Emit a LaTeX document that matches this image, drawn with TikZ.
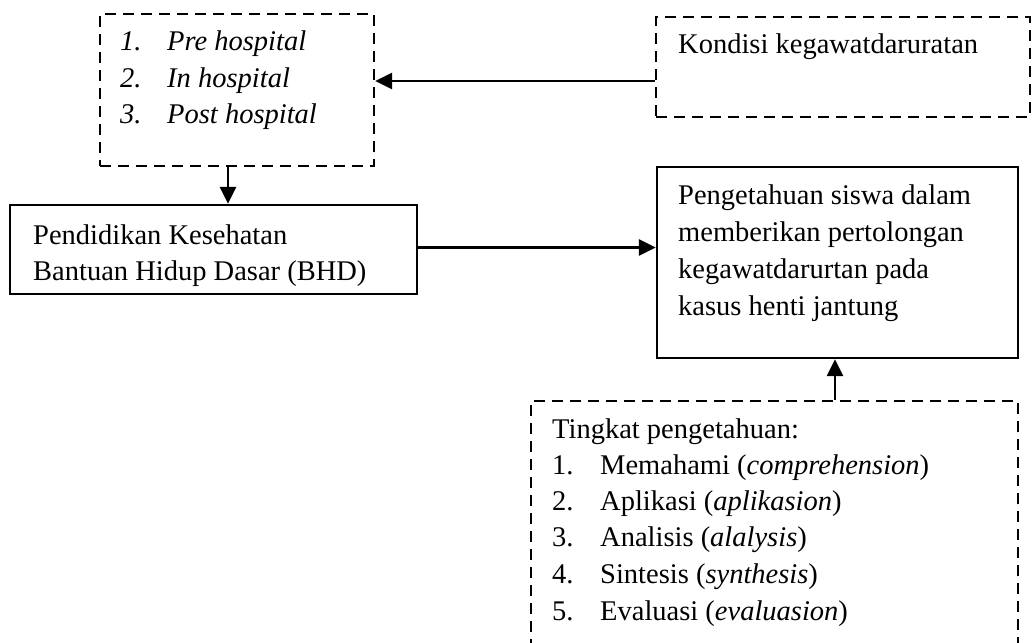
\documentclass[tikz,border=0pt]{standalone}
\usepackage{fontspec}
\setmainfont{Liberation Serif}
\usetikzlibrary{arrows.meta}
\begin{document}
\begin{tikzpicture}[x=1pt,y=-1pt,
  box/.style={draw,line width=2.4pt,inner sep=0pt,rectangle},
  dbox/.style={box,dash pattern=on 11pt off 7pt},
  arr/.style={line width=2.6pt,-{Triangle[length=17pt,width=16pt]}},
  txt/.style={anchor=base west,inner sep=0pt,font=\fontsize{28.5}{36}\selectfont}]
\useasboundingbox (0,0) rectangle (1032,642);
\clip (0,0) rectangle (1032,642);
% boxes
\node[dbox,minimum width=274pt,minimum height=152pt] (A) at (237,90) {};
\node[dbox,minimum width=374pt,minimum height=100pt] (B) at (843,67) {};
\node[box,minimum width=407pt,minimum height=89pt] (C) at (213.5,249.5) {};
\node[box,minimum width=361pt,minimum height=191pt] (D) at (837.5,262.5) {};
\node[dbox,minimum width=487pt,minimum height=264pt] (E) at (774.5,533) {};
% texts box A
\node[txt] (a1n) at (120,51) {\itshape 1.};
\node[txt] (a1t) at (167,51) {\itshape Pre hospital};
\node[txt] (a2n) at (120,87.5) {\itshape 2.};
\node[txt] (a2t) at (167,87.5) {\itshape In hospital};
\node[txt] (a3n) at (120,123.5) {\itshape 3.};
\node[txt] (a3t) at (167,123.5) {\itshape Post hospital};
% box B
\node[txt] (bt) at (678,54) {Kondisi kegawatdaruratan};
% box C
\node[txt] (c1) at (33,244) {Pendidikan Kesehatan};
\node[txt] (c2) at (33,280) {Bantuan Hidup Dasar (BHD)};
% box D
\node[txt] (d1) at (678,204) {Pengetahuan siswa dalam};
\node[txt] (d2) at (678,241) {memberikan pertolongan};
\node[txt] (d3) at (678,278) {kegawatdarurtan pada};
\node[txt] (d4) at (678,315) {kasus henti jantung};
% box E
\node[txt] (e0) at (552,438) {Tingkat pengetahuan:};
\node[txt] (e1n) at (552,474) {1.};
\node[txt] (e1t) at (600,474) {Memahami (\textit{comprehension})};
\node[txt] (e2n) at (552,510) {2.};
\node[txt] (e2t) at (600,510) {Aplikasi (\textit{aplikasion})};
\node[txt] (e3n) at (552,546) {3.};
\node[txt] (e3t) at (600,546) {Analisis (\textit{alalysis})};
\node[txt] (e4n) at (552,583) {4.};
\node[txt] (e4t) at (600,583) {Sintesis (\textit{synthesis})};
\node[txt] (e5n) at (552,620) {5.};
\node[txt] (e5t) at (600,620) {Evaluasi (\textit{evaluasion})};
% connectors
\draw[arr] ([yshift=-14pt]B.west) -- ([yshift=-14pt]B.west -| A.east);
\draw[arr] ([xshift=-9pt]A.south) -- ([xshift=-9pt]A.south |- C.north);
\draw[arr] ([yshift=2pt]C.east) -- ([yshift=2pt]C.east -| D.west);
\draw[arr] ([xshift=-2.5pt]D.south |- E.north) -- ([xshift=-2.5pt]D.south);
\end{tikzpicture}
\end{document}
